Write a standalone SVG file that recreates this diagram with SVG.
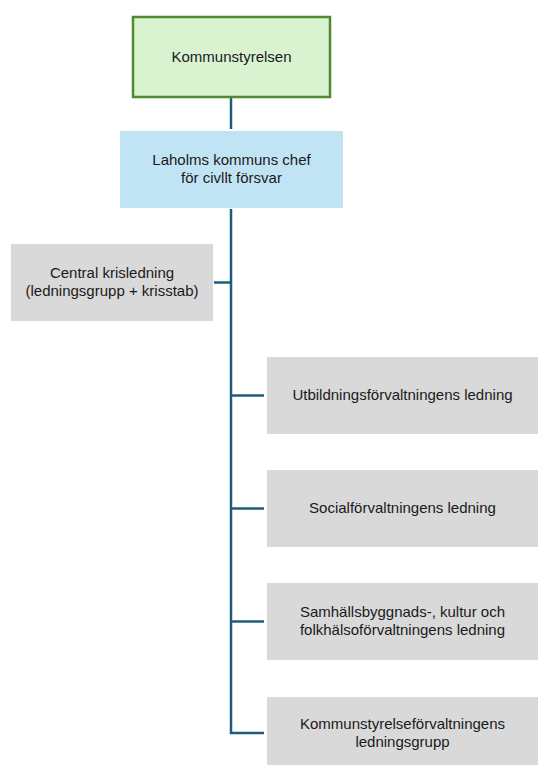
<svg xmlns="http://www.w3.org/2000/svg" width="538" height="765" viewBox="0 0 538 765">
<style>
text{font-family:"Liberation Sans",Arial,sans-serif;font-size:15px;fill:#1a1a1a;text-anchor:middle}
.g{fill:#d9d9d9}
.c{stroke:#1e5c7c;stroke-width:2.5;fill:none}
</style>
<rect width="538" height="765" fill="#fff"/>
<g id="connectors">
<line class="c" x1="231" y1="97" x2="231" y2="129"/>
<line class="c" x1="231" y1="209" x2="231" y2="734"/>
<line class="c" x1="214" y1="282.5" x2="232" y2="282.5"/>
<line class="c" x1="230" y1="395.5" x2="264" y2="395.5"/>
<line class="c" x1="230" y1="508.5" x2="264" y2="508.5"/>
<line class="c" x1="230" y1="621.5" x2="264" y2="621.5"/>
<line class="c" x1="230" y1="733" x2="264" y2="733"/>
</g>
<g id="kommunstyrelsen">
<rect x="133" y="17" width="197" height="80" fill="#d9f2d0" stroke="#4f8a30" stroke-width="2.5"/>
<text x="231.5" y="62">Kommunstyrelsen</text>
</g>
<g id="chef">
<rect x="120" y="131" width="223" height="77" fill="#c1e4f5"/>
<text x="231.5" y="165">Laholms kommuns chef</text>
<text x="231.5" y="182.5">för civllt försvar</text>
</g>
<g id="central">
<rect class="g" x="11" y="244" width="202" height="77"/>
<text x="112" y="278">Central krisledning</text>
<text x="112" y="295.5">(ledningsgrupp + krisstab)</text>
</g>
<g id="utbildning">
<rect class="g" x="267" y="357" width="271" height="77"/>
<text x="402.5" y="400">Utbildningsförvaltningens ledning</text>
</g>
<g id="social">
<rect class="g" x="267" y="470" width="271" height="77"/>
<text x="402.5" y="513">Socialförvaltningens ledning</text>
</g>
<g id="samhalls">
<rect class="g" x="267" y="583" width="271" height="77"/>
<text x="402.5" y="617">Samhällsbyggnads-, kultur och</text>
<text x="402.5" y="634.5">folkhälsoförvaltningens ledning</text>
</g>
<g id="ksf">
<rect class="g" x="267" y="697" width="271" height="68"/>
<text x="402.5" y="729">Kommunstyrelseförvaltningens</text>
<text x="402.5" y="746.5">ledningsgrupp</text>
</g>
</svg>
